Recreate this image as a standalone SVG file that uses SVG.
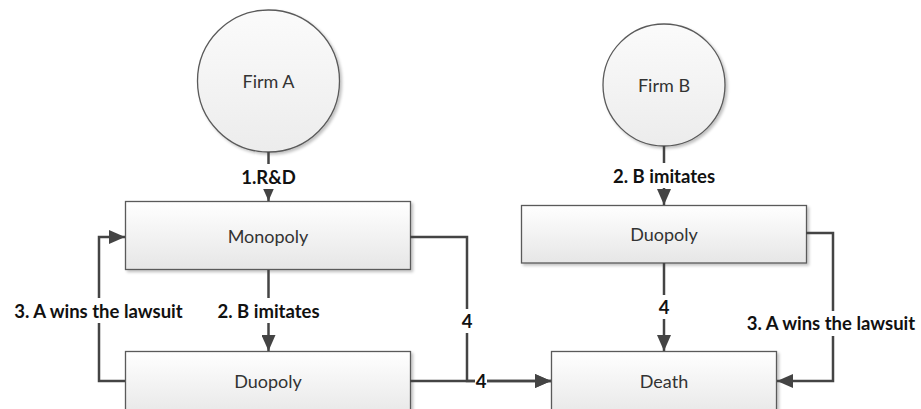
<svg xmlns="http://www.w3.org/2000/svg" width="921" height="409" viewBox="0 0 921 409">
<style>
.node{stroke:#5a5a5a;stroke-width:1.3}
.box{fill:url(#gb)}
.circ{fill:url(#gc)}
.nt{font-family:Lato,"Open Sans",sans-serif;font-size:18px;fill:#333;text-anchor:middle;dominant-baseline:central}
.lt{font-family:Lato,"Open Sans",sans-serif;font-size:18.5px;font-weight:bold;fill:#111;text-anchor:middle;dominant-baseline:central}
.c{fill:none;stroke:#444;stroke-width:2.5}
.bg{fill:#fff}
</style>
<defs>
<linearGradient id="gb" x1="0" y1="0" x2="0" y2="1"><stop offset="0" stop-color="#ffffff"/><stop offset="1" stop-color="#e6e6e6"/></linearGradient>
<linearGradient id="gc" x1="0" y1="0" x2="0" y2="1"><stop offset="0" stop-color="#fbfbfb"/><stop offset="1" stop-color="#ececec"/></linearGradient>
<filter id="sh" x="-10%" y="-10%" width="130%" height="130%"><feGaussianBlur in="SourceAlpha" stdDeviation="1.5"/><feOffset dx="2" dy="2"/><feComponentTransfer><feFuncA type="linear" slope="0.25"/></feComponentTransfer><feMerge><feMergeNode/><feMergeNode in="SourceGraphic"/></feMerge></filter>
<marker id="ar" viewBox="0 0 16 14" refX="16" refY="7" markerWidth="16" markerHeight="14" markerUnits="userSpaceOnUse" orient="auto"><path d="M0,0 L16,7 L0,14 Z" fill="#444"/></marker>
</defs>

<g id="firmA"><circle class="node circ" cx="268.5" cy="81" r="71" filter="url(#sh)"/><text class="nt" x="268.5" y="81">Firm A</text></g>
<g id="firmB"><circle class="node circ" cx="664" cy="85" r="61" filter="url(#sh)"/><text class="nt" x="664" y="85">Firm B</text></g>
<g id="monopoly"><rect class="node box" x="125.5" y="201.5" width="285" height="68" filter="url(#sh)"/><text class="nt" x="268" y="236">Monopoly</text></g>
<g id="duopolyA"><rect class="node box" x="125.5" y="351.5" width="285" height="68" filter="url(#sh)"/><text class="nt" x="268" y="381">Duopoly</text></g>
<g id="duopolyB"><rect class="node box" x="521.5" y="205.5" width="285" height="57.5" filter="url(#sh)"/><text class="nt" x="664" y="234">Duopoly</text></g>
<g id="death"><rect class="node box" x="551.5" y="351.5" width="225" height="68" filter="url(#sh)"/><text class="nt" x="664" y="381">Death</text></g>

<g id="connectors">
<path class="c" d="M268.5,152 V201" marker-end="url(#ar)"/>
<path class="c" d="M664,146 V205" marker-end="url(#ar)"/>
<path class="c" d="M268.5,270 V351" marker-end="url(#ar)"/>
<path class="c" d="M125,381 H99 V237 H125" marker-end="url(#ar)"/>
<path class="c" d="M410,237 H467 V381 H551" marker-end="url(#ar)"/>
<path class="c" d="M410,381 H551" marker-end="url(#ar)"/>
<path class="c" d="M664,263 V351" marker-end="url(#ar)"/>
<path class="c" d="M806,233 H833 V381 H777" marker-end="url(#ar)"/>

<rect class="bg" x="238" y="164" width="62" height="25"/><text class="lt" x="268.5" y="177">1.R&amp;D</text>
<rect class="bg" x="610" y="163" width="108" height="25"/><text class="lt" x="664" y="176">2. B imitates</text>
<rect class="bg" x="214" y="298" width="108" height="25"/><text class="lt" x="268.5" y="311">2. B imitates</text>
<rect class="bg" x="10" y="298" width="177" height="25"/><text class="lt" x="98.5" y="311">3. A wins the lawsuit</text>
<rect class="bg" x="460" y="309" width="14" height="24"/><text class="lt" x="467" y="321">4</text>
<rect class="bg" x="475" y="371" width="12" height="20"/><text class="lt" x="481" y="381">4</text>
<rect class="bg" x="657" y="295" width="14" height="24"/><text class="lt" x="664" y="307">4</text>
<rect class="bg" x="743" y="311" width="176" height="25"/><text class="lt" x="831" y="323">3. A wins the lawsuit</text>
</g>
</svg>
